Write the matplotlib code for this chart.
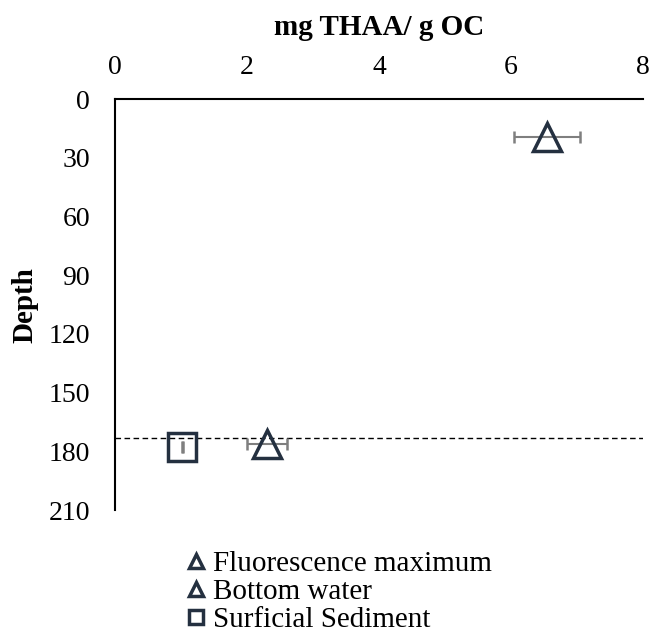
import numpy as np
import matplotlib.pyplot as plt

plt.rcParams['font.family'] = ['Liberation Serif', 'DejaVu Serif']

# data
series = ['Fluorescence maximum', 'Bottom water', 'Surficial Sediment']
thaa = [6.55, 2.30, 1.02]
thaa_err = [0.5, 0.3, 0.005]
depth = [19.5, 176, 178]
markers = ['^', '^', 's']
sediment_depth = 173
xticks = [0, 2, 4, 6, 8]
yticks = [0, 30, 60, 90, 120, 150, 180, 210]

navy = '#243040'

fig = plt.figure(figsize=(6.54, 6.44), dpi=100)
ax = fig.add_axes([0.176, 0.208, 0.807, 0.638])

for name, x, xe, d, m in zip(series, thaa, thaa_err, depth, markers):
    ax.errorbar(x, d, xerr=xe, fmt='none', ecolor='#7f7f7f', elinewidth=1.5,
                capsize=4.5, capthick=1.8, zorder=2)
    ax.plot(x, d, linestyle='none', marker=m, markersize=20,
            markerfacecolor='none', markeredgecolor=navy, markeredgewidth=2.5,
            label=name, zorder=3)

ax.axhline(sediment_depth, color='black', linestyle=(0, (4, 2.5)), linewidth=1, zorder=1)

ax.set_xlim(0, 8)
ax.set_ylim(210, 0)
ax.set_xticks(xticks)
ax.set_yticks(yticks)
ax.xaxis.tick_top()
ax.xaxis.set_label_position('top')
ax.tick_params(length=0, labelsize=20)
ax.tick_params(axis='y', pad=18)
ax.tick_params(axis='x', pad=14)
for s in ['right', 'bottom']:
    ax.spines[s].set_visible(False)
for s in ['top', 'left']:
    ax.spines[s].set_linewidth(1.5)
ax.set_xlabel('mg THAA/ g OC', fontsize=21, fontweight='bold', labelpad=14)
ax.set_ylabel('Depth', fontsize=21, fontweight='bold')
ax.yaxis.set_label_coords(-0.145, 0.5)

handles, labels = ax.get_legend_handles_labels()
fig.legend(handles, labels, loc='upper left', bbox_to_anchor=(0.27, 0.163),
           frameon=False, fontsize=21, handlelength=0.5, handletextpad=0.35,
           markerscale=0.48, labelspacing=0.05, borderaxespad=0)

plt.savefig('out.png', dpi=100)
